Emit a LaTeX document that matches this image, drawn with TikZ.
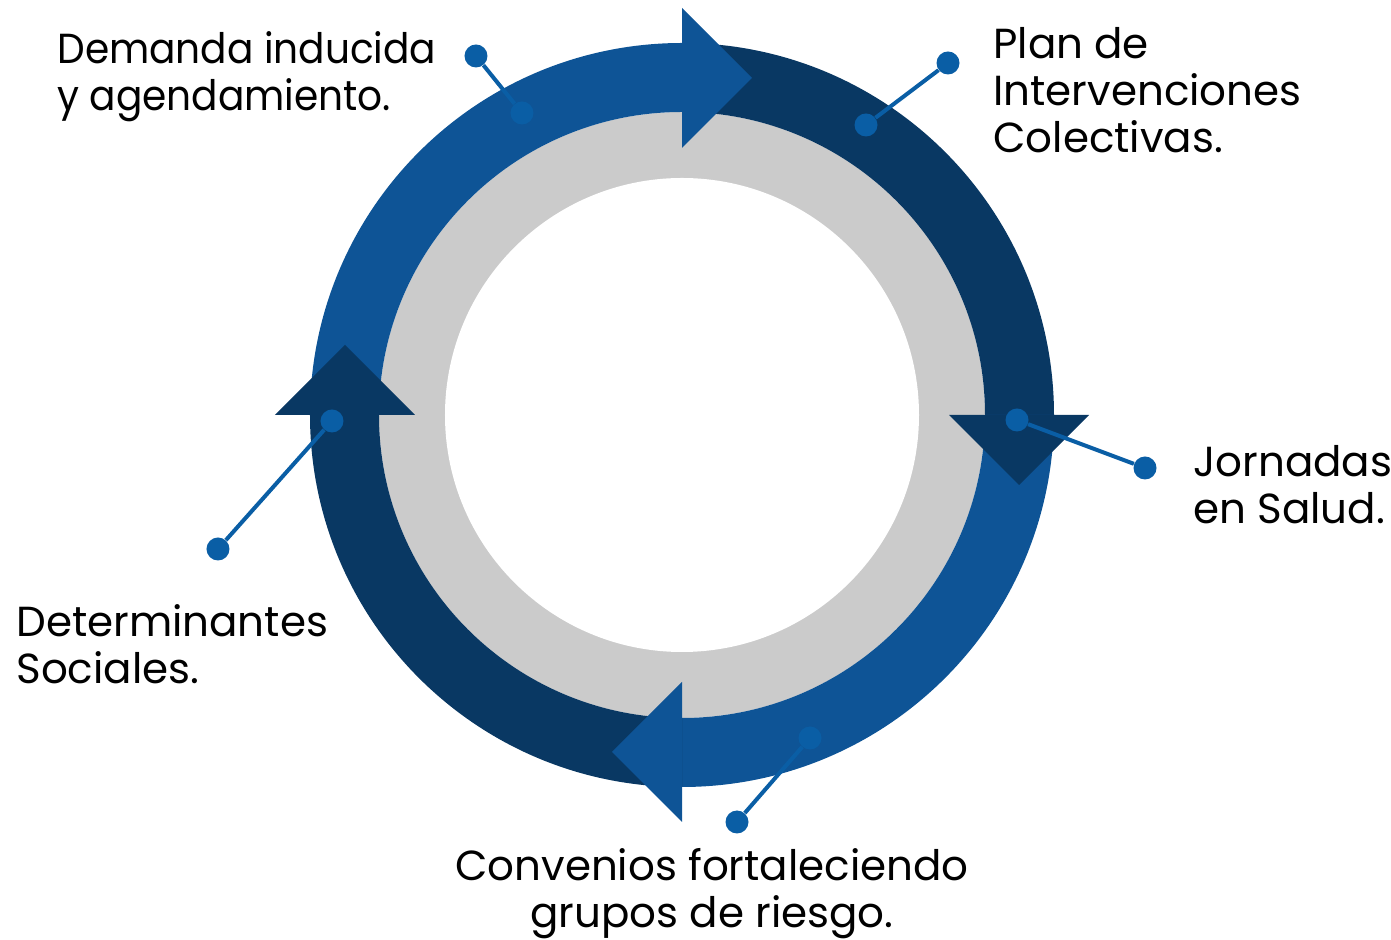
\documentclass[tikz,border=0pt]{standalone}
\usepackage{fontspec}
\setmainfont{Poppins}
\usepackage{xcolor}
\usepackage{tikz}

\definecolor{ciclolight}{HTML}{0E5496}
\definecolor{ciclodark}{HTML}{093863}
\definecolor{ciclogray}{HTML}{CBCBCB}
\definecolor{ciclodot}{HTML}{0A5EA5}

\begin{document}
\begin{tikzpicture}[x=0.5pt, y=0.5pt, dot/.style={circle, inner sep=0pt, minimum size=11.5pt, fill=ciclodot}, leader/.style={ciclodot, line width=2pt}, etiqueta/.style={inner sep=0pt, align=left, anchor=base west, font=\fontsize{21}{23.5}\selectfont}]
  \useasboundingbox (-682,-525) rectangle (709,415);
  % ring
  \fill[ciclogray] (0,0) circle[radius=303];
  \fill[white] (0,0) circle[radius=237];
  \foreach \a/\c in {180/ciclolight, 90/ciclodark, 0/ciclolight, -90/ciclodark}
    \fill[\c] (\a:372) arc[start angle=\a, end angle=\a-90, radius=372] -- (\a-90:303) arc[start angle=\a-90, end angle=\a, radius=303] -- cycle;
  \foreach \a/\c in {90/ciclolight, 0/ciclodark, -90/ciclolight, -180/ciclodark}
    \fill[\c, rotate=\a] (267,0) -- (407,0) -- (337,-70) -- cycle;
  % leaders
  \node[dot] (demA) at (-160,302) {};
  \node[dot] (demB) at (-206,359) {};
  \node[dot] (planA) at (184,290) {};
  \node[dot] (planB) at (266,352) {};
  \node[dot] (jorA) at (335,-5) {};
  \node[dot] (jorB) at (463,-53) {};
  \node[dot] (convA) at (128,-323) {};
  \node[dot] (convB) at (55,-407) {};
  \node[dot] (detA) at (-350,-6) {};
  \node[dot] (detB) at (-464,-134) {};
  \draw[leader] (demA) -- (demB);
  \draw[leader] (planA) -- (planB);
  \draw[leader] (jorA) -- (jorB);
  \draw[leader] (convA) -- (convB);
  \draw[leader] (detA) -- (detB);
  % texts (anchored at the last baseline)
  \node[etiqueta, font=\fontsize{21}{23.5}\selectfont\addfontfeature{FakeStretch=0.93}] (demanda) at (-625,304) {Demanda inducida\\y agendamiento.};
  \node[etiqueta] (plan) at (311,262) {Plan de\\Intervenciones\\Colectivas.};
  \node[etiqueta] (jornadas) at (511,-109) {Jornadas\\en Salud.};
  \node[etiqueta] (determinantes) at (-666,-269) {Determinantes\\Sociales.};
  \node[etiqueta, align=center, anchor=base] (convenios) at (30,-512) {Convenios fortaleciendo\\grupos de riesgo.};
\end{tikzpicture}
\end{document}
